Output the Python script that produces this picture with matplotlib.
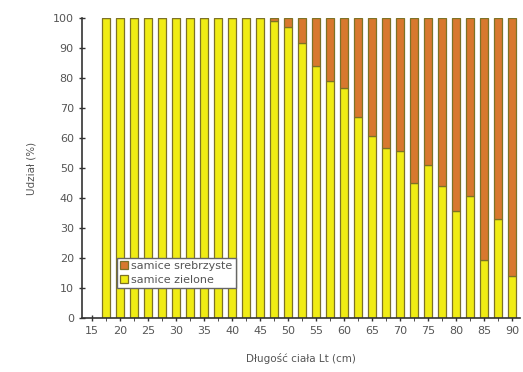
import matplotlib
matplotlib.use('Agg')
import matplotlib.pyplot as plt
from matplotlib.ticker import MultipleLocator

# dlugosc ciala (cm) i udzial samic zielonych (%)
lengths = [17.5, 20, 22.5, 25, 27.5, 30, 32.5, 35, 37.5, 40, 42.5, 45,
           47.5, 50, 52.5, 55, 57.5, 60, 62.5, 65, 67.5, 70, 72.5, 75,
           77.5, 80, 82.5, 85, 87.5, 90]
zielone = [100, 100, 100, 100, 100, 100, 100, 100, 100, 100, 100, 100,
           99, 97, 91.5, 84, 79, 76.5, 67, 60.5, 56.5, 55.5, 45, 51,
           44, 35.5, 40.5, 19.5, 33, 14]
srebrzyste = [100 - v for v in zielone]

yellow = '#f0ec14'
orange = '#d8782e'
edge = '#7d7226'
txt = '#555555'

fig = plt.figure(figsize=(5.23, 3.72), dpi=100)
ax = fig.add_axes([0.157, 0.145, 0.837, 0.807])

ax.bar(lengths, zielone, width=1.4, color=yellow, edgecolor=edge, linewidth=0.9,
       label='samice zielone', zorder=2)
ax.bar(lengths, srebrzyste, width=1.4, bottom=zielone, color=orange, edgecolor=edge,
       linewidth=0.9, label='samice srebrzyste', zorder=2)

ax.set_xlim(13.2, 91.4)
ax.set_ylim(0, 100)
ax.xaxis.set_major_locator(MultipleLocator(5))
ax.xaxis.set_minor_locator(MultipleLocator(2.5))
ax.yaxis.set_major_locator(MultipleLocator(10))

for s in ['top', 'right']:
    ax.spines[s].set_visible(False)
for s in ['left', 'bottom']:
    ax.spines[s].set_color('#333333')
    ax.spines[s].set_linewidth(1.2)

ax.tick_params(axis='both', direction='inout', length=5, width=1, colors='#333333',
               labelcolor=txt, labelsize=8)
ax.tick_params(axis='x', which='minor', direction='inout', length=4, colors='#333333')

ax.set_xlabel('Długość ciała Lt (cm)', fontsize=7.5, color=txt, labelpad=12)
ax.set_ylabel('Udział (%)', fontsize=7.5, color=txt, labelpad=12)

h, l = ax.get_legend_handles_labels()
leg = ax.legend(h[::-1], l[::-1], loc='lower left', bbox_to_anchor=(0.066, 0.082),
                fontsize=8, frameon=True, fancybox=False, edgecolor='#666666',
                handlelength=0.7, handleheight=0.7, handletextpad=0.3,
                borderpad=0.3, labelspacing=0.3, framealpha=1)
for t in leg.get_texts():
    t.set_color(txt)
leg.set_zorder(5)

fig.savefig('out.png', dpi=100)
